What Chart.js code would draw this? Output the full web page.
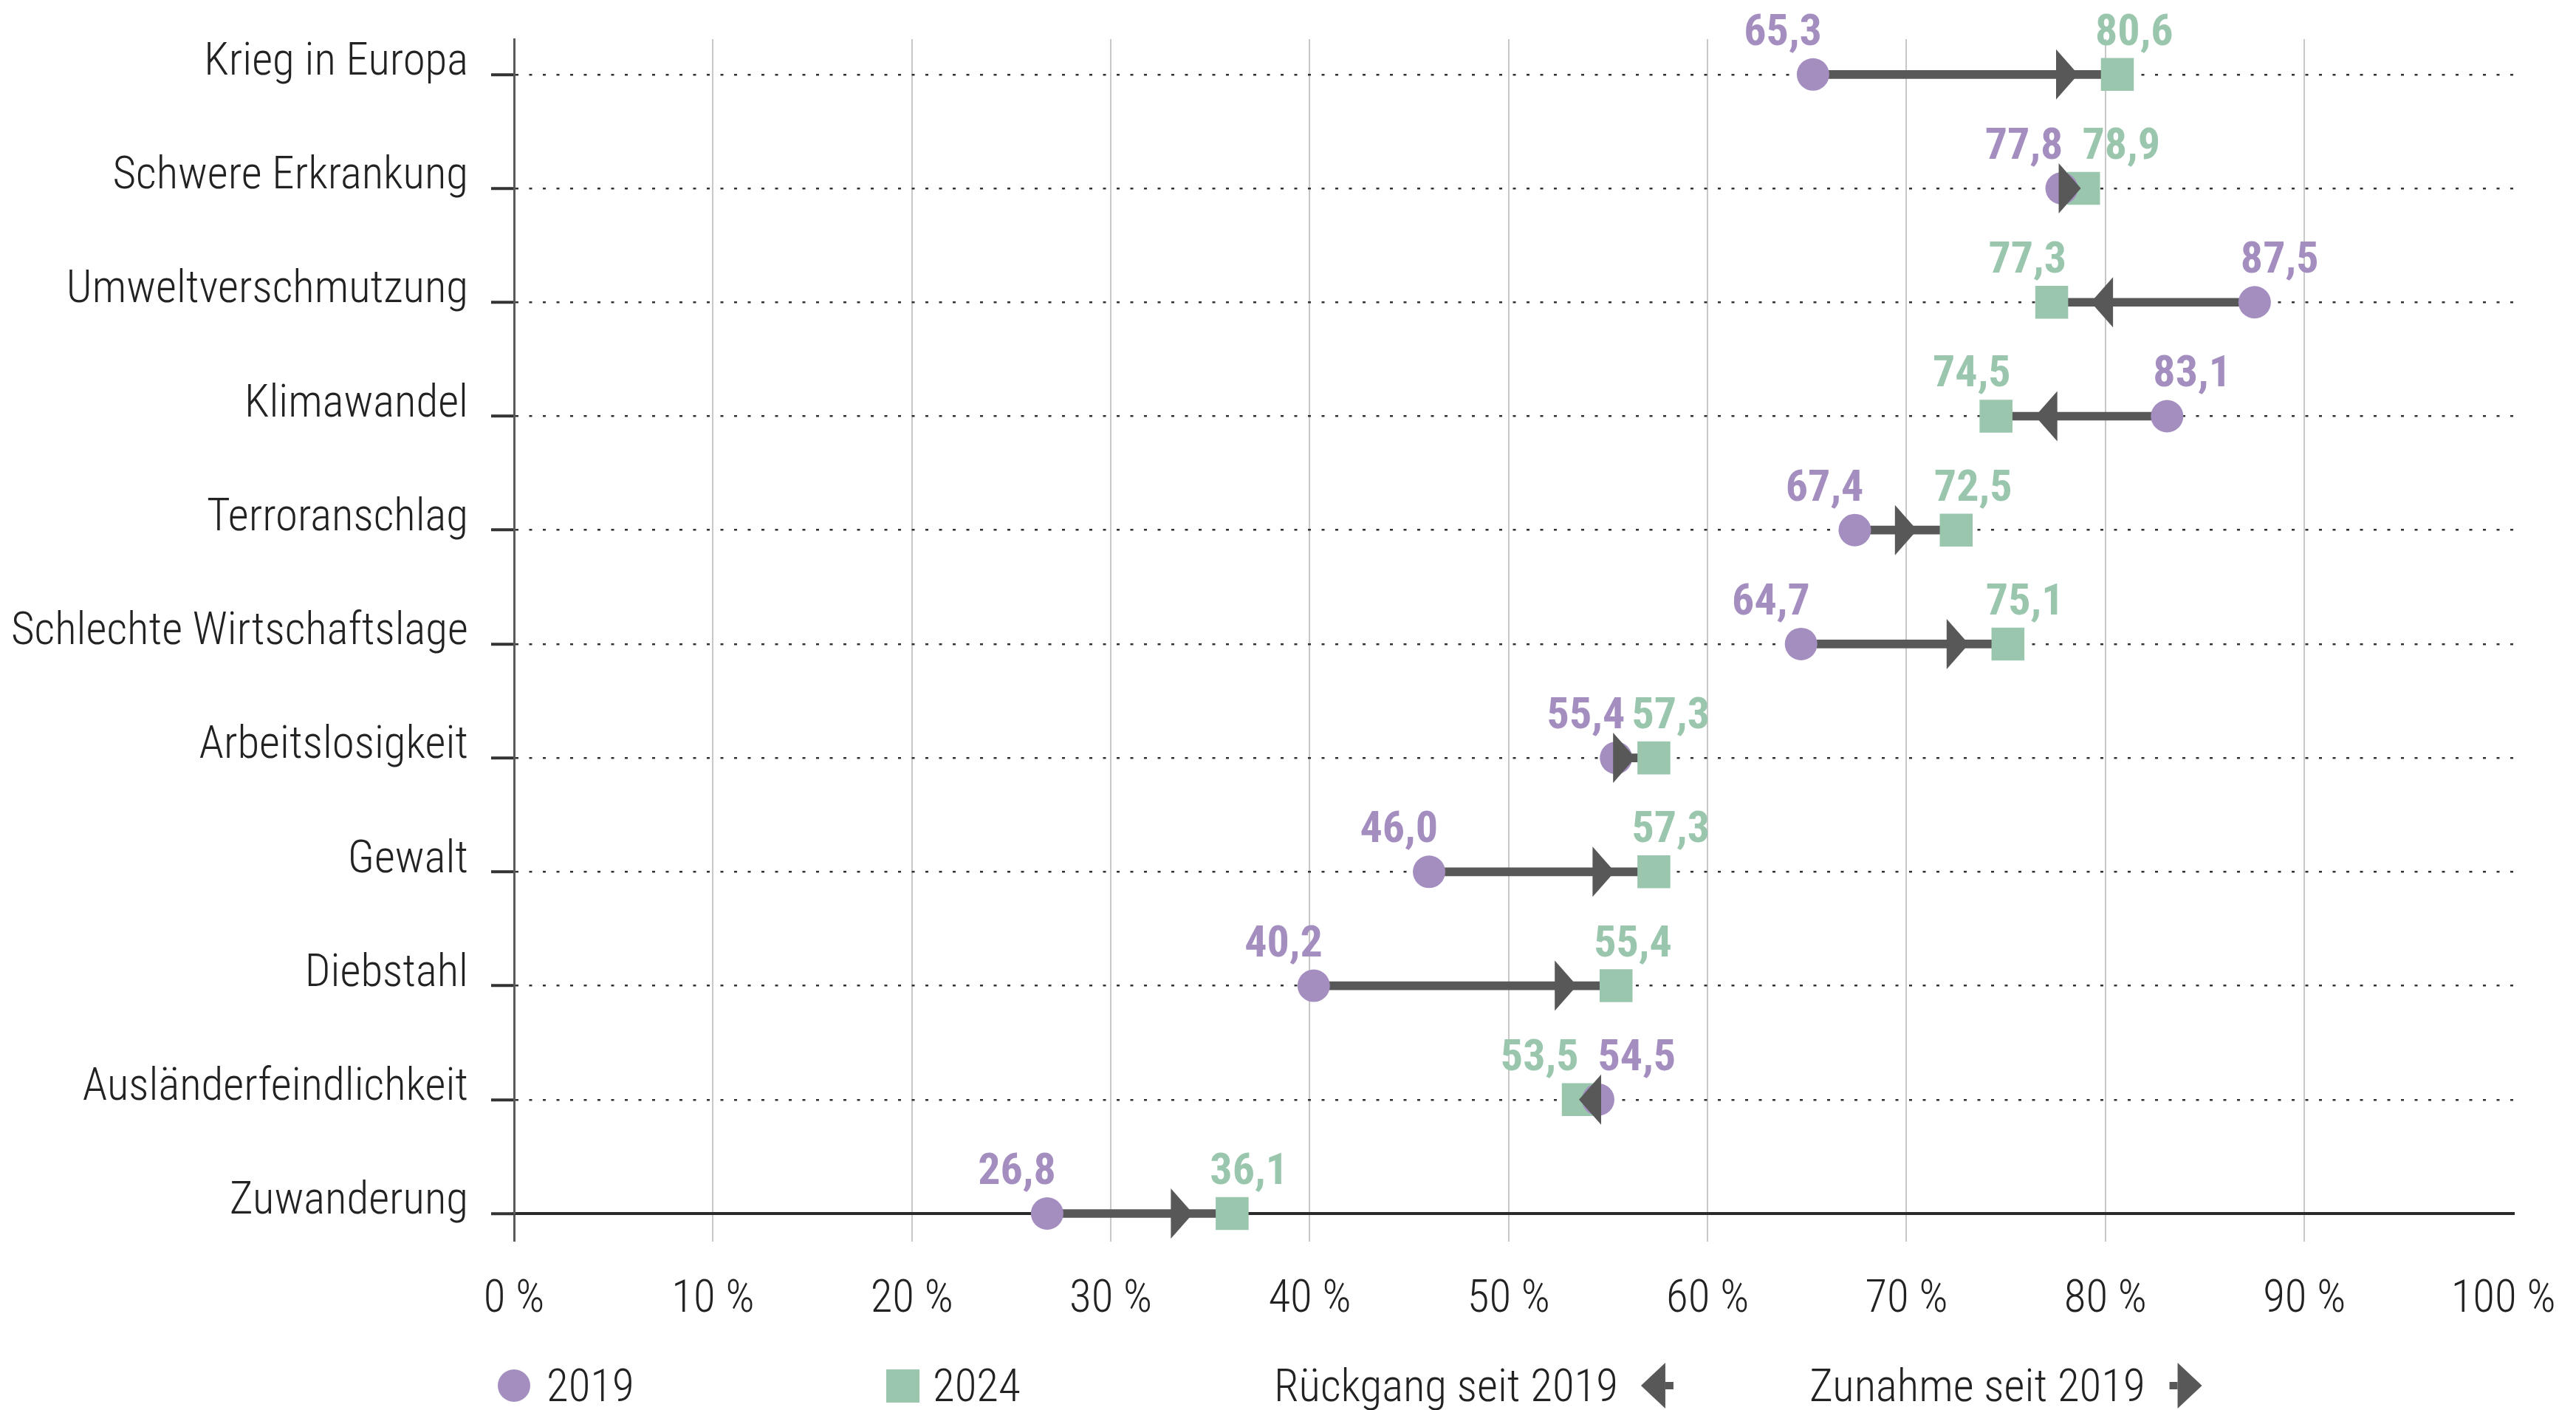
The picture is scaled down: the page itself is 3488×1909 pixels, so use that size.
<!DOCTYPE html>
<html lang="de">
<head>
<meta charset="utf-8">
<title>Ängste 2019 und 2024</title>
<script src="https://cdn.jsdelivr.net/npm/chart.js@4.4.1/dist/chart.umd.min.js"></script>
<style>
  html, body { margin: 0; padding: 0; background: #ffffff; overflow: hidden; }
  #wrap { width: 3488px; height: 1909px; }
</style>
</head>
<body>
<div id="wrap"><canvas id="chart" width="3488" height="1909"></canvas></div>
<script>
// ---- data -------------------------------------------------------------
const categories = [
  'Krieg in Europa',
  'Schwere Erkrankung',
  'Umweltverschmutzung',
  'Klimawandel',
  'Terroranschlag',
  'Schlechte Wirtschaftslage',
  'Arbeitslosigkeit',
  'Gewalt',
  'Diebstahl',
  'Ausländerfeindlichkeit',
  'Zuwanderung'
];
const values2019 = [65.3, 77.8, 87.5, 83.1, 67.4, 64.7, 55.4, 46.0, 40.2, 54.5, 26.8];
const values2024 = [80.6, 78.9, 77.3, 74.5, 72.5, 75.1, 57.3, 57.3, 55.4, 53.5, 36.1];
const xTickValues = [0, 10, 20, 30, 40, 50, 60, 70, 80, 90, 100];
const seriesNames = ['2019', '2024'];
const changeNames = ['Rückgang seit 2019', 'Zunahme seit 2019'];

// ---- style ------------------------------------------------------------
const PURPLE = '#a48ec0';
const GREEN = '#99c6ad';
const ARROW = '#585858';
const INK = '#222222';
const FONT = "'Roboto Condensed', Roboto, sans-serif";
const fmt = v => v.toFixed(1).replace('.', ',');

// arrow head from the 2019 value towards the 2024 value
const arrowHeads = {
  id: 'arrowHeads',
  afterDatasetsDraw(chart) {
    const { ctx, scales: { x, y } } = chart;
    ctx.save();
    ctx.fillStyle = ARROW;
    categories.forEach((c, i) => {
      const x0 = x.getPixelForValue(values2019[i]);
      const x1 = x.getPixelForValue(values2024[i]);
      const py = y.getPixelForValue(i);
      const dir = x1 >= x0 ? 1 : -1;
      let tip = x1 - dir * 53;
      if ((tip - x0) * dir < 26) tip = x0 + dir * 26;
      ctx.beginPath();
      ctx.moveTo(tip, py);
      ctx.lineTo(tip - dir * 30, py - 34);
      ctx.lineTo(tip - dir * 30, py + 34);
      ctx.closePath();
      ctx.fill();
    });
    ctx.restore();
  }
};

// value labels above both markers, pushed apart from each other
const valueLabels = {
  id: 'valueLabels',
  afterDatasetsDraw(chart) {
    const { ctx, scales: { x, y } } = chart;
    ctx.save();
    ctx.font = `700 60px ${FONT}`;
    ctx.textBaseline = 'alphabetic';
    categories.forEach((c, i) => {
      const a = values2019[i], b = values2024[i];
      const up = b >= a;
      const lowV = up ? a : b, highV = up ? b : a;
      const lowC = up ? PURPLE : GREEN, highC = up ? GREEN : PURPLE;
      const xl = x.getPixelForValue(lowV);
      const xr = x.getPixelForValue(highV);
      const py = y.getPixelForValue(i) - 40;
      let leftEnd = xl + (up ? 12 : 20);
      let rightStart = xr + (up ? -30 : -19);
      if (rightStart - leftEnd < 0) {
        const mid = (xl + xr) / 2;
        leftEnd = mid - 13;
        rightStart = mid + 13;
      }
      ctx.textAlign = 'right';
      ctx.fillStyle = lowC;
      ctx.fillText(fmt(lowV), leftEnd, py);
      ctx.textAlign = 'left';
      ctx.fillStyle = highC;
      ctx.fillText(fmt(highV), rightStart, py);
    });
    ctx.restore();
  }
};

// legend row below the axis
const legendRow = {
  id: 'legendRow',
  afterDraw(chart) {
    const { ctx, chartArea } = chart;
    const base = 1897, mid = 1876;
    ctx.save();
    ctx.font = `300 61px ${FONT}`;
    ctx.textBaseline = 'alphabetic';
    ctx.textAlign = 'left';

    const cx = chartArea.left;
    ctx.fillStyle = PURPLE;
    ctx.beginPath();
    ctx.arc(cx, mid, 22, 0, Math.PI * 2);
    ctx.fill();
    ctx.fillStyle = INK;
    ctx.fillText(seriesNames[0], cx + 44, base);

    ctx.fillStyle = GREEN;
    ctx.fillRect(1200, mid - 22, 45, 45);
    ctx.fillStyle = INK;
    ctx.fillText(seriesNames[1], 1263, base);

    const drawIcon = (start, dir) => {
      // stem plus head, head pointing in dir
      ctx.fillStyle = ARROW;
      const headLen = 33, stem = 11;
      let stemX, backX, tipX;
      if (dir > 0) { stemX = start; backX = start + stem; tipX = backX + headLen; }
      else { tipX = start; backX = start + headLen; stemX = backX; }
      ctx.fillRect(stemX, mid - 5, stem, 10);
      ctx.beginPath();
      ctx.moveTo(tipX, mid);
      ctx.lineTo(backX, mid - 31);
      ctx.lineTo(backX, mid + 31);
      ctx.closePath();
      ctx.fill();
    };

    ctx.fillStyle = INK;
    ctx.fillText(changeNames[0], 1725, base);
    const w0 = ctx.measureText(changeNames[0]).width;
    drawIcon(1725 + w0 + 31, -1);

    ctx.fillStyle = INK;
    ctx.fillText(changeNames[1], 2450, base);
    const w1 = ctx.measureText(changeNames[1]).width;
    drawIcon(2450 + w1 + 33, 1);
    ctx.restore();
  }
};

const rowIndex = categories.map((c, i) => i);

new Chart(document.getElementById('chart'), {
  type: 'scatter',
  data: {
    datasets: [
      {
        label: '2019',
        data: values2019.map((v, i) => ({ x: v, y: rowIndex[i] })),
        backgroundColor: PURPLE,
        borderWidth: 0,
        pointStyle: 'circle',
        pointRadius: 22,
        clip: false,
        order: 1
      },
      {
        label: '2024',
        data: values2024.map((v, i) => ({ x: v, y: rowIndex[i] })),
        backgroundColor: GREEN,
        borderWidth: 0,
        pointStyle: 'rect',
        pointRadius: 31.5,
        clip: false,
        order: 1
      },
      {
        type: 'bar',
        label: 'Veränderung',
        indexAxis: 'y',
        data: values2019.map((v, i) => ({ x: [v, values2024[i]], y: rowIndex[i] })),
        backgroundColor: ARROW,
        borderWidth: 0,
        barThickness: 11,
        clip: false,
        order: 3
      }
    ]
  },
  options: {
    responsive: false,
    devicePixelRatio: 1,
    animation: false,
    events: [],
    layout: { padding: { top: 53, right: 85, bottom: 0, left: 0 } },
    plugins: {
      legend: { display: false },
      tooltip: { enabled: false }
    },
    scales: {
      x: {
        type: 'linear',
        min: 0,
        max: 100.5,
        offset: false,
        afterBuildTicks: s => { s.ticks = xTickValues.map(v => ({ value: v })); },
        afterFit: s => { s.height = 266; s.paddingLeft = 0; s.paddingRight = 0; },
        ticks: {
          autoSkip: false,
          maxRotation: 0,
          padding: 43,
          color: INK,
          font: { family: FONT, size: 61, weight: '300' },
          callback: v => v + ' %'
        },
        grid: {
          offset: false,
          drawTicks: true,
          tickLength: 38,
          color: c => c.tick && c.tick.value === 0 ? '#5a5a5a' : (c.tick && c.tick.value === 100 ? 'rgba(0,0,0,0)' : '#c8c8c8'),
          lineWidth: c => c.tick && c.tick.value === 0 ? 3 : 2
        },
        border: { display: true, color: '#2a2a2a', width: 4 }
      },
      y: {
        type: 'linear',
        reverse: true,
        min: -0.31,
        max: 10,
        offset: false,
        afterBuildTicks: s => { s.ticks = rowIndex.map(i => ({ value: i })); },
        afterFit: s => { s.width = 696; s.paddingTop = 0; s.paddingBottom = 0; },
        ticks: {
          autoSkip: false,
          padding: 31,
          labelOffset: -15,
          color: INK,
          font: { family: FONT, size: 61, weight: '300' },
          callback: v => categories[v]
        },
        grid: {
          offset: false,
          drawTicks: true,
          tickLength: 31,
          color: '#333333',
          lineWidth: 2.5,
          tickColor: '#333333',
          tickWidth: 4,
          tickBorderDash: []
        },
        border: { display: true, color: '#5a5a5a', width: 3, dash: [4, 14.5], dashOffset: 0 }
      }
    }
  },
  plugins: [arrowHeads, valueLabels, legendRow]
});
</script>
</body>
</html>
